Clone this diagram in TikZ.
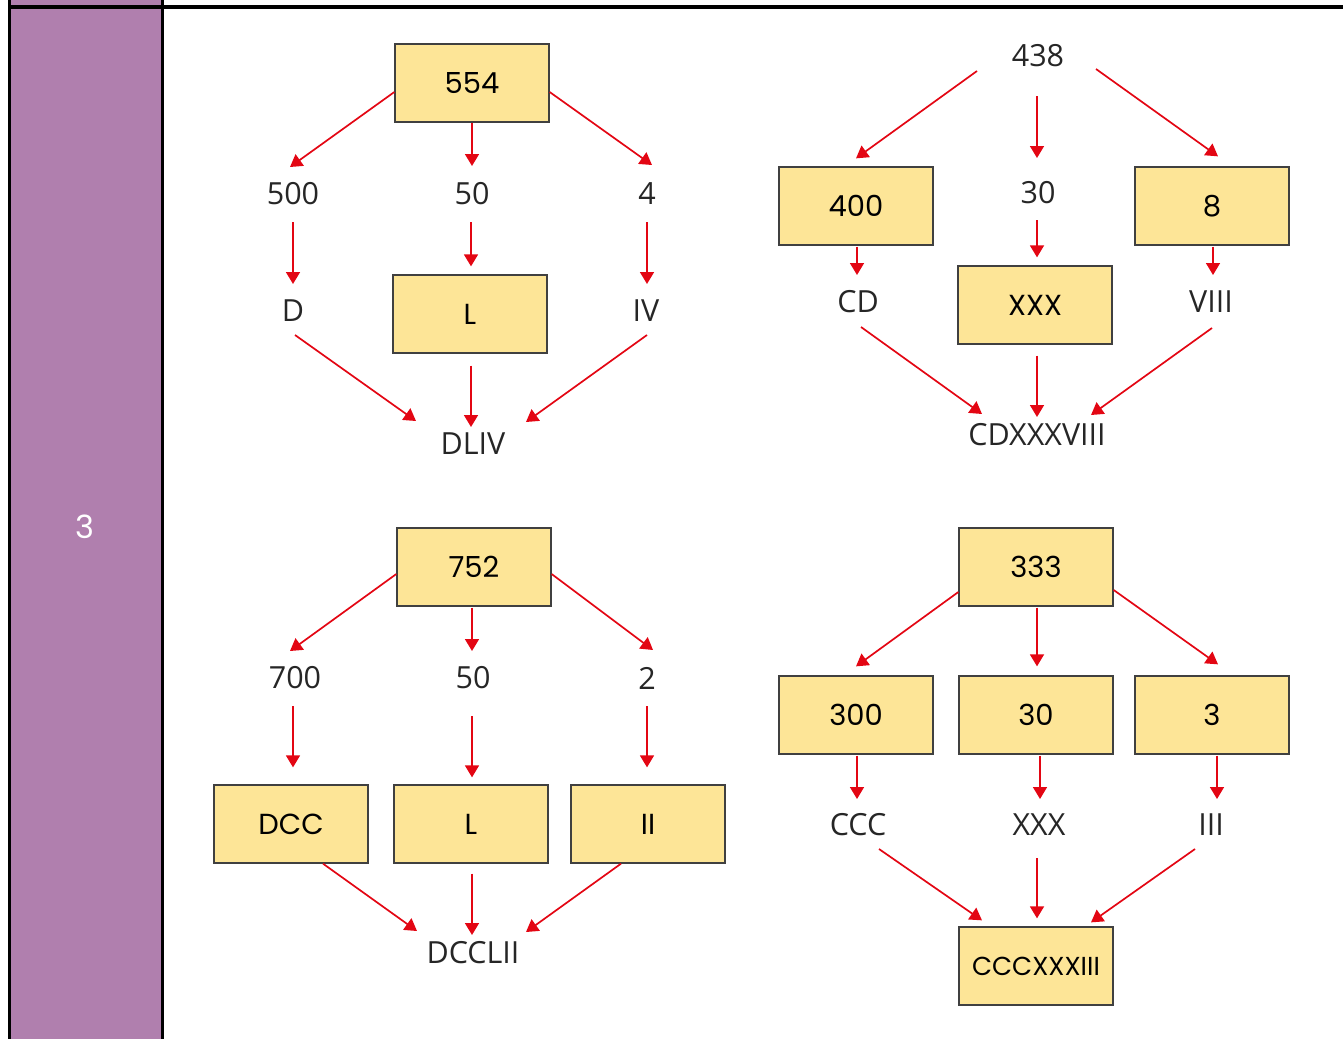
\documentclass[tikz,border=0pt]{standalone}
\usepackage{fontspec}
\setmainfont{Open Sans}
\newfontfamily\boxfont{Poppins}
\usetikzlibrary{calc,arrows.meta}
\definecolor{purp}{HTML}{B07FAE}
\definecolor{boxy}{HTML}{FDE597}
\definecolor{arrred}{HTML}{E30613}
\definecolor{lbl}{HTML}{262626}
\begin{document}
\begin{tikzpicture}[x=1pt,y=-1pt,
 nbox/.style={draw=black!75, line width=1.3pt, fill=boxy, minimum width=154pt, minimum height=78pt, inner sep=0pt, font=\boxfont\fontsize{29}{29}\selectfont, text=black},
 lab/.style={inner sep=0pt, font=\fontsize{30.5}{30.5}\selectfont, text=lbl},
 arr/.style={draw=arrred, line width=1.7pt, -{Triangle[width=14pt,length=12pt]}}]
\useasboundingbox (0,0) rectangle (1343,1039);
\fill[purp] (9.5,0) rectangle (162.5,1039);
\draw[line width=3.5pt] (9.5,0) -- (9.5,1039);
\draw[line width=3.5pt] (162.5,0) -- (162.5,1039);
\draw[line width=3.5pt] (8,7) -- (1343,7);
\node[font=\boxfont\fontsize{32}{32}\selectfont, text=white] (num) at (85,527) {3};

% top left
\node[nbox] (b554) at (472,83) {554};
\node[lab] (l500) at (293,194) {500};
\node[lab] (l50a) at (472,194) {50};
\node[lab] (l4) at (647,194) {4};
\node[lab] (lD) at (293,311) {D};
\node[nbox] (bLa) at (470,314) {L};
\node[lab] (lIV) at (646,311) {IV};
\node[lab] (lDLIV) at (473,444) {DLIV};
\draw[arr] ($(b554.west)+(0,9)$) -- ($(l500)+(-3,-27)$);
\draw[arr] (b554.south) -- ($(l50a)+(0,-28)$);
\draw[arr] ($(b554.east)+(0,9)$) -- ($(l4)+(5,-29)$);
\draw[arr] ($(l500)+(0,28)$) -- ($(lD)+(0,-27)$);
\draw[arr] ($(l50a)+(-1,28)$) -- ($(bLa.north)+(1,-8)$);
\draw[arr] ($(l4)+(0,28)$) -- ($(lIV)+(1,-27)$);
\draw[arr] ($(lD)+(2,24)$) -- ($(lDLIV)+(-57,-23)$);
\draw[arr] ($(bLa.south)+(1,12)$) -- ($(lDLIV)+(-2,-17)$);
\draw[arr] ($(lIV)+(1,24)$) -- ($(lDLIV)+(53,-22)$);

% top right
\node[lab] (l438) at (1038,56) {438};
\node[nbox] (b400) at (856,206) {400};
\node[lab] (l30a) at (1038,193) {30};
\node[nbox] (b8) at (1212,206) {8};
\node[lab] (lCD) at (858,302) {CD};
\node[nbox] (bXXXa) at (1035,305) {XXX};
\node[lab] (lVIII) at (1211,302) {VIII};
\node[lab] (lCDX) at (1037,435) {CDXXXVIII};
\draw[arr] ($(l438)+(-61,15)$) -- ($(b400.north)+(0,-8)$);
\draw[arr] ($(l438)+(-1,40)$) -- ($(l30a)+(-1,-35)$);
\draw[arr] ($(l438)+(58,13)$) -- ($(b8.north)+(6,-10)$);
\draw[arr] ($(b400.south)+(1,1)$) -- ($(lCD)+(-1,-27)$);
\draw[arr] ($(l30a)+(-1,27)$) -- ($(bXXXa.north)+(2,-8)$);
\draw[arr] ($(b8.south)+(1,1)$) -- ($(lVIII)+(2,-27)$);
\draw[arr] ($(lCD)+(3,25)$) -- ($(lCDX)+(-55,-21)$);
\draw[arr] ($(bXXXa.south)+(2,11)$) -- ($(lCDX)+(0,-18)$);
\draw[arr] ($(lVIII)+(1,26)$) -- ($(lCDX)+(54,-20)$);

% bottom left
\node[nbox] (b752) at (474,567) {752};
\node[lab] (l700) at (295,678) {700};
\node[lab] (l50b) at (473,678) {50};
\node[lab] (l2) at (647,678) {2};
\node[nbox] (bDCC) at (291,824) {DCC};
\node[nbox] (bLb) at (471,824) {L};
\node[nbox] (bII) at (648,824) {II};
\node[lab] (lDCCLII) at (473,953) {DCCLII};
\draw[arr] ($(b752.west)+(0,7)$) -- ($(l700)+(-5,-27)$);
\draw[arr] ($(b752.south)+(-2,1)$) -- ($(l50b)+(-1,-27)$);
\draw[arr] ($(b752.east)+(0,7)$) -- ($(l2)+(6,-28)$);
\draw[arr] ($(l700)+(-2,28)$) -- ($(bDCC.north)+(2,-17)$);
\draw[arr] ($(l50b)+(-1,38)$) -- ($(bLb.north)+(1,-7)$);
\draw[arr] ($(l2)+(0,28)$) -- ($(bII.north)+(-1,-17)$);
\draw[arr] ($(bDCC.south)+(32,0)$) -- ($(lDCCLII)+(-56,-22)$);
\draw[arr] ($(bLb.south)+(1,10)$) -- ($(lDCCLII)+(-1,-18)$);
\draw[arr] ($(bII.south)+(-27,0)$) -- ($(lDCCLII)+(53,-21)$);

% bottom right
\node[nbox] (b333) at (1036,567) {333};
\node[nbox] (b300) at (856,715) {300};
\node[nbox] (b30) at (1036,715) {30};
\node[nbox] (b3) at (1212,715) {3};
\node[lab] (lCCC) at (858,825) {CCC};
\node[lab] (lXXXb) at (1039,825) {XXX};
\node[lab] (lIII) at (1211,825) {III};
\node[nbox, font=\boxfont\fontsize{26}{26}\selectfont] (bCCCX) at (1036,966) {CCCXXXIII};
\draw[arr] ($(b333.west)+(0,25)$) -- ($(b300.north)+(0,-9)$);
\draw[arr] ($(b333.south)+(1,1)$) -- ($(b30.north)+(1,-9)$);
\draw[arr] ($(b333.east)+(0,23)$) -- ($(b3.north)+(6,-11)$);
\draw[arr] ($(b300.south)+(1,1)$) -- ($(lCCC)+(-1,-26)$);
\draw[arr] ($(b30.south)+(4,1)$) -- ($(lXXXb)+(1,-26)$);
\draw[arr] ($(b3.south)+(5,1)$) -- ($(lIII)+(6,-26)$);
\draw[arr] ($(lCCC)+(21,24)$) -- ($(bCCCX.north)+(-54,-6)$);
\draw[arr] ($(lXXXb)+(-2,33)$) -- ($(bCCCX.north)+(1,-8)$);
\draw[arr] ($(lIII)+(-16,24)$) -- ($(bCCCX.north)+(55,-4)$);
\end{tikzpicture}
\end{document}
